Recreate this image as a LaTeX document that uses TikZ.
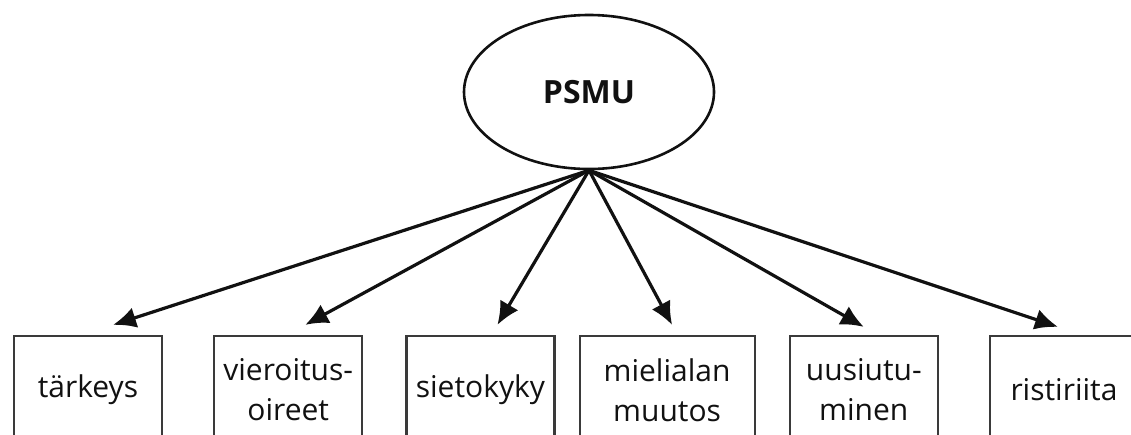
\documentclass[tikz,border=0pt]{standalone}
\usepackage{fontspec}
\setmainfont{Open Sans}
\usetikzlibrary{shapes.geometric, arrows.meta, positioning}
\definecolor{InkBlack}{HTML}{111111}
\definecolor{BoxGray}{HTML}{3A3A3A}

\begin{document}
\begin{tikzpicture}[
    x=1pt, y=1pt,
    latent/.style={draw=InkBlack, ellipse, line width=2.6pt, minimum width=250pt, minimum height=154pt, inner sep=0pt, font=\fontsize{32}{38}\selectfont\bfseries, text=InkBlack},
    item/.style={draw=BoxGray, line width=2.2pt, minimum width=148pt, minimum height=108pt, inner sep=0pt, align=center, font=\fontsize{30}{40}\selectfont, text=InkBlack},
    arrow/.style={-{Latex[length=23pt, width=21pt]}, line width=3.2pt, draw=InkBlack}
]
    \useasboundingbox (0,0) rectangle (1131,-434);
    \clip (0,0) rectangle (1131,-434);
    \node[latent] (psmu) at (589,-92) {PSMU};
    \node[item] (tark) at (88,-390) {tärkeys};
    \node[item, right=50pt of tark] (vier) {vieroitus-\\oireet};
    \node[item, right=42pt of vier] (siet) {sietokyky};
    \node[item, right=23pt of siet, minimum width=175pt] (miel) {mielialan\\muutos};
    \node[item, right=33pt of miel] (uusi) {uusiutu-\\minen};
    \node[item, right=50pt of uusi] (rist) {ristiriita};
    \draw[arrow] (psmu.south) -- ([xshift=25pt, yshift=10pt]tark.north);
    \draw[arrow] (psmu.south) -- ([xshift=17pt, yshift=10pt]vier.north);
    \draw[arrow] (psmu.south) -- ([xshift=17pt, yshift=10pt]siet.north);
    \draw[arrow] (psmu.south) -- ([xshift=5pt, yshift=10pt]miel.north);
    \draw[arrow] (psmu.south) -- ([yshift=8pt]uusi.north);
    \draw[arrow] (psmu.south) -- ([xshift=-6pt, yshift=8pt]rist.north);
\end{tikzpicture}
\end{document}
